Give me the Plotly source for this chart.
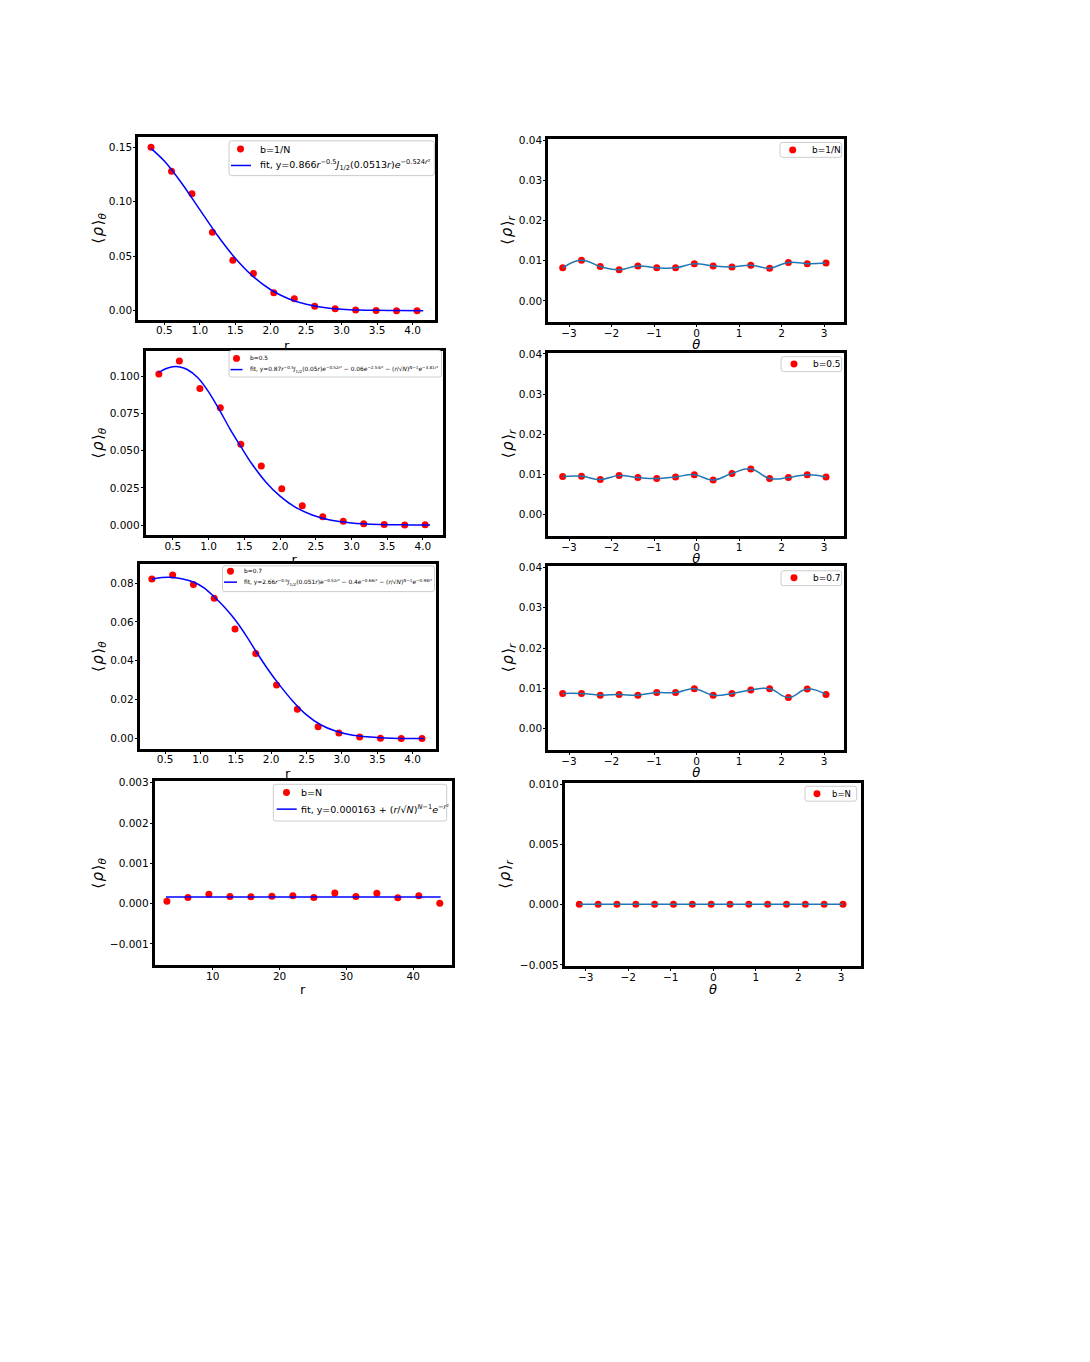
import plotly.graph_objects as go

# ---------------- data ----------------
# left column: <rho>_theta versus r
r_b1N = [0.312, 0.601, 0.889, 1.178, 1.466, 1.755, 2.043, 2.332, 2.620, 2.909, 3.197, 3.486, 3.774, 4.063]
rho_th_b1N = [0.1500, 0.1280, 0.1074, 0.0720, 0.0462, 0.0341, 0.0165, 0.0109, 0.0041, 0.0018, 0.0006, 0.0001, 0.0000, 0.0000]
fit_r_b1N = [0.312, 0.50, 0.75, 1.00, 1.25, 1.50, 1.75, 2.00, 2.25, 2.50, 2.75, 3.00, 3.25, 3.50, 3.80, 4.15]
fit_y_b1N = [0.1490, 0.1373, 0.1165, 0.0927, 0.0690, 0.0481, 0.0314, 0.0192, 0.0110, 0.0059, 0.0030, 0.0014, 0.0006, 0.0003, 0.0001, 0.0000]

r_b05 = [0.304, 0.591, 0.878, 1.164, 1.451, 1.738, 2.024, 2.311, 2.598, 2.885, 3.171, 3.458, 3.745, 4.031]
rho_th_b05 = [0.1015, 0.1102, 0.0918, 0.0788, 0.0542, 0.0397, 0.0244, 0.0130, 0.0056, 0.0026, 0.0009, 0.0004, 0.0000, 0.0002]
fit_r_b05 = [0.304, 0.40, 0.50, 0.60, 0.70, 0.85, 1.00, 1.15, 1.30, 1.45, 1.60, 1.80, 2.00, 2.20, 2.45, 2.70, 3.00, 3.40, 3.80, 4.10]
fit_y_b05 = [0.1025, 0.1050, 0.1063, 0.1062, 0.1045, 0.0990, 0.0895, 0.0775, 0.0645, 0.0528, 0.0415, 0.0290, 0.0194, 0.0124, 0.0068, 0.0034, 0.0014, 0.0004, 0.0001, 0.0000]

r_b07 = [0.312, 0.606, 0.900, 1.194, 1.488, 1.782, 2.076, 2.370, 2.664, 2.958, 3.252, 3.546, 3.840, 4.134]
rho_th_b07 = [0.0821, 0.0841, 0.0792, 0.0722, 0.0563, 0.0437, 0.0275, 0.0151, 0.0061, 0.0028, 0.0008, 0.0002, 0.0000, 0.0000]
fit_r_b07 = [0.312, 0.45, 0.60, 0.75, 0.90, 1.05, 1.20, 1.35, 1.50, 1.65, 1.80, 1.95, 2.10, 2.30, 2.50, 2.70, 2.90, 3.10, 3.40, 3.70, 4.16]
fit_y_b07 = [0.0820, 0.0828, 0.0829, 0.0821, 0.0805, 0.0775, 0.0727, 0.0672, 0.0606, 0.0527, 0.0440, 0.0358, 0.0284, 0.0195, 0.0122, 0.0071, 0.0040, 0.0021, 0.0008, 0.0002, 0.0000]

r_bN = [3.14, 6.28, 9.42, 12.57, 15.71, 18.85, 21.99, 25.13, 28.27, 31.42, 34.56, 37.70, 40.84, 43.98]
rho_th_bN = [0.000056, 0.000152, 0.000232, 0.000176, 0.000168, 0.000184, 0.000192, 0.000152, 0.000264, 0.000176, 0.000256, 0.000144, 0.000192, 0.000008]
fit_r_bN = [3.0, 44.1]
fit_y_bN = [0.000163, 0.000163]

# right column: <rho>_r versus theta
theta = [-3.149, -2.706, -2.264, -1.821, -1.379, -0.936, -0.493, -0.051, 0.392, 0.834, 1.277, 1.720, 2.162, 2.605, 3.047]
rho_r_b1N = [0.00824, 0.01016, 0.00856, 0.00776, 0.00872, 0.00824, 0.00824, 0.00928, 0.00872, 0.00848, 0.00888, 0.00816, 0.00960, 0.00928, 0.00944]
rho_r_b05 = [0.00944, 0.00952, 0.00872, 0.00968, 0.00920, 0.00896, 0.00936, 0.00992, 0.00856, 0.01024, 0.01136, 0.00896, 0.00920, 0.00992, 0.00936]
rho_r_b07 = [0.00872, 0.00872, 0.00832, 0.00848, 0.00832, 0.00896, 0.00896, 0.00992, 0.00832, 0.00872, 0.00960, 0.00992, 0.00776, 0.00984, 0.00848]
rho_r_bN = [0.00005, 0.00005, 0.00005, 0.00005, 0.00005, 0.00005, 0.00005, 0.00005, 0.00005, 0.00005, 0.00005, 0.00005, 0.00005, 0.00005, 0.00005]

labels_b = ["b=1/N", "b=0.5", "b=0.7", "b=N"]
fit_labels = [
    "fit, y=0.866<i>r</i><sup>−0.5</sup><i>J</i><sub>1/2</sub>(0.0513<i>r</i>)<i>e</i><sup>−0.524<i>r</i>²</sup>",
    "fit, y=0.87<i>r</i><sup>−0.5</sup><i>J</i><sub>1/2</sub>(0.05<i>r</i>)<i>e</i><sup>−0.52<i>r</i>²</sup> − 0.06<i>e</i><sup>−2.54<i>r</i>²</sup> − (<i>r</i>/√<i>N</i>)<sup><i>N</i>−1</sup><i>e</i><sup>−3.81<i>r</i>²</sup>",
    "fit, y=2.66<i>r</i><sup>−0.5</sup><i>J</i><sub>1/2</sub>(0.051<i>r</i>)<i>e</i><sup>−0.52<i>r</i>²</sup> − 0.4<i>e</i><sup>−0.66<i>r</i>²</sup> − (<i>r</i>/√<i>N</i>)<sup><i>N</i>−1</sup><i>e</i><sup>−0.98<i>r</i>²</sup>",
    "fit, y=0.000163 + (<i>r</i>/√<i>N</i>)<sup><i>N</i>−1</sup><i>e</i><sup>−<i>r</i>²</sup>",
]

# ---------------- geometry (page pixels) ----------------
PAGE_W, PAGE_H = 1090, 1362
OX = OY = 8                      # default body margin of the html page
WF, HF = PAGE_W - 2 * OX, PAGE_H - 2 * OY
LW = 3.0
FONT = "DejaVu Sans"
RED, BLUE, C0 = "#ff0000", "#0000ff", "#1f77b4"
TICKFONT = dict(family=FONT, size=10.5, color="black")
LABFONT = dict(family=FONT, size=13, color="black")
YLABFONT = dict(family=FONT, size=15, color="black")


def X(px):
    return (px - OX) / WF


def Y(py):
    return 1 - (py - OY) / HF


# frame (left, right, top, bottom) at spine centres, x range, y range at those edges
P = [
    dict(frame=(136.7, 436.7, 131.2, 318.3), xr=(0.11, 4.34), yr=(-0.0070, 0.1582), xd=0.5, xf=".1f", yd=0.05, yf=".2f"),
    dict(frame=(546.7, 845.7, 133.3, 321.0), xr=(-3.525, 3.51), yr=(-0.005, 0.04), xd=1, xf="d", yd=0.01, yf=".2f"),
    dict(frame=(144.3, 444.0, 346.7, 535.0), xr=(0.10, 4.295), yr=(-0.0057, 0.1160), xd=0.5, xf=".1f", yd=0.025, yf=".3f"),
    dict(frame=(546.7, 845.7, 348.3, 536.0), xr=(-3.525, 3.51), yr=(-0.005, 0.04), xd=1, xf="d", yd=0.01, yf=".2f"),
    dict(frame=(138.3, 437.3, 561.7, 750.0), xr=(0.12, 4.35), yr=(-0.0044, 0.0888), xd=0.5, xf=".1f", yd=0.02, yf=".2f"),
    dict(frame=(546.7, 845.7, 563.3, 751.7), xr=(-3.525, 3.51), yr=(-0.005, 0.04), xd=1, xf="d", yd=0.01, yf=".2f"),
    dict(frame=(153.3, 453.3, 780.0, 968.3), xr=(1.1, 46.0), yr=(-0.0015, 0.003), xd=10, xf="d", yd=0.001, yf=".3f"),
    dict(frame=(563.3, 862.7, 781.7, 969.3), xr=(-3.525, 3.51), yr=(-0.005, 0.010), xd=1, xf="d", yd=0.005, yf=".3f"),
]

fig = go.Figure()
layout = dict(width=WF, height=HF, margin=dict(l=0, r=0, t=0, b=0),
              paper_bgcolor="white", plot_bgcolor="white", showlegend=False,
              annotations=[], shapes=[])


def inset(a0, a1, p0, p1):
    k = (a1 - a0) / (p1 - p0)
    return [a0 + k * LW / 2, a1 - k * LW / 2]


for i, p in enumerate(P):
    n = i + 1
    l, r, t, b = p["frame"]
    xs = "" if n == 1 else str(n)
    common = dict(showgrid=False, zeroline=False, showline=True, linecolor="black", linewidth=LW,
                  mirror=True, ticks="outside", ticklen=2, tickwidth=0.8, tickcolor="black",
                  tickfont=TICKFONT, tick0=0, fixedrange=True)
    layout["xaxis" + xs] = dict(domain=[X(l + LW / 2), X(r - LW / 2)],
                                range=inset(p["xr"][0], p["xr"][1], l, r),
                                anchor="y" + xs, dtick=p["xd"], tickformat=p["xf"],
                                ticklabelstandoff=-3, **common)
    layout["yaxis" + xs] = dict(domain=[Y(b - LW / 2), Y(t + LW / 2)],
                                range=inset(p["yr"][0], p["yr"][1], b, t),
                                anchor="x" + xs, dtick=p["yd"], tickformat=p["yf"],
                                ticklabelstandoff=-1, **common)

# left column traces
left = [(r_b1N, rho_th_b1N, fit_r_b1N, fit_y_b1N),
        (r_b05, rho_th_b05, fit_r_b05, fit_y_b05),
        (r_b07, rho_th_b07, fit_r_b07, fit_y_b07),
        (r_bN, rho_th_bN, fit_r_bN, fit_y_bN)]
for k, (xr_, yr_, fx, fy) in enumerate(left):
    n = 2 * k + 1
    xs = "" if n == 1 else str(n)
    fig.add_trace(go.Scatter(x=xr_, y=yr_, mode="markers", name=labels_b[k],
                             marker=dict(color=RED, size=7), xaxis="x" + xs, yaxis="y" + xs,
                             hoverinfo="skip"))
    fig.add_trace(go.Scatter(x=fx, y=fy, mode="lines", name=fit_labels[k],
                             line=dict(color=BLUE, width=1.5, shape="spline", smoothing=0.8),
                             xaxis="x" + xs, yaxis="y" + xs, hoverinfo="skip"))

# right column traces
right = [rho_r_b1N, rho_r_b05, rho_r_b07, rho_r_bN]
for k, yv in enumerate(right):
    xs = str(2 * k + 2)
    fig.add_trace(go.Scatter(x=theta, y=yv, mode="markers", name=labels_b[k],
                             marker=dict(color=RED, size=7), xaxis="x" + xs, yaxis="y" + xs,
                             hoverinfo="skip"))
    fig.add_trace(go.Scatter(x=theta, y=yv, mode="lines", name="interp",
                             line=dict(color=C0, width=1.5, shape="spline", smoothing=1.3),
                             xaxis="x" + xs, yaxis="y" + xs, hoverinfo="skip"))

ann = layout["annotations"]
shp = layout["shapes"]

# ---------------- legends (matplotlib-style boxes) ----------------
# box (l, r, t, b), font size, entries: (kind, symbol x / x-range, row y, text, text x)
LEGENDS = [
    ((229.0, 434.3, 136.7, 171.7), 9.5, [("m", 240.5, 145.0, labels_b[0], 258.3), ("l", (231.0, 251.0), 161.5, fit_labels[0], 258.3)]),
    ((780.0, 841.7, 138.3, 153.3), 9.0, [("m", 792.7, 145.8, labels_b[0], 810.0)]),
    ((229.0, 441.5, 347.8, 374.5), 5.9, [("m", 236.5, 355.7, labels_b[1], 247.7), ("l", (230.5, 242.5), 367.0, fit_labels[1], 247.7)]),
    ((781.0, 841.7, 354.0, 369.0), 9.0, [("m", 794.0, 361.3, labels_b[1], 811.0)]),
    ((222.5, 434.5, 564.5, 590.5), 5.9, [("m", 230.5, 570.0, labels_b[2], 241.5), ("l", (224.0, 237.0), 581.0, fit_labels[2], 241.5)]),
    ((781.0, 841.7, 569.5, 584.5), 9.0, [("m", 794.0, 576.5, labels_b[2], 811.0)]),
    ((273.3, 446.7, 784.5, 821.5), 9.5, [("m", 286.5, 792.7, labels_b[3], 299.0), ("l", (276.7, 296.7), 809.5, fit_labels[3], 299.0)]),
    ((805.0, 856.7, 786.5, 801.5), 8.5, [("m", 817.0, 794.0, labels_b[3], 830.0)]),
]


def rounded_rect(l, r, t, b, rad=2.5):
    x0, x1, y0, y1 = X(l), X(r), Y(b), Y(t)
    rx, ry = rad / WF, rad / HF
    return (f"M{x0 + rx},{y1} L{x1 - rx},{y1} Q{x1},{y1} {x1},{y1 - ry} "
            f"L{x1},{y0 + ry} Q{x1},{y0} {x1 - rx},{y0} L{x0 + rx},{y0} "
            f"Q{x0},{y0} {x0},{y0 + ry} L{x0},{y1 - ry} Q{x0},{y1} {x0 + rx},{y1} Z")


for (l, r, t, b), fs, entries in LEGENDS:
    shp.append(dict(type="path", path=rounded_rect(l, r, t, b), xref="paper", yref="paper",
                    fillcolor="rgba(255,255,255,0.8)", line=dict(color="#cccccc", width=1), layer="above"))
    for kind, sx, sy, txt, tx in entries:
        if kind == "m":
            rad = 3.5
            shp.append(dict(type="circle", xref="paper", yref="paper",
                            x0=X(sx - rad), x1=X(sx + rad), y0=Y(sy + rad), y1=Y(sy - rad),
                            fillcolor=RED, line=dict(color=RED, width=0), layer="above"))
        else:
            shp.append(dict(type="line", xref="paper", yref="paper",
                            x0=X(sx[0]), x1=X(sx[1]), y0=Y(sy), y1=Y(sy),
                            line=dict(color=BLUE, width=1.5), layer="above"))
        ann.append(dict(text=txt, x=X(tx), y=Y(sy), xref="paper", yref="paper",
                        xanchor="left", yanchor="middle", showarrow=False,
                        font=dict(family=FONT, size=fs, color="black")))

# ---------------- axis titles ----------------
for i, p in enumerate(P):
    l, r, t, b = p["frame"]
    left_col = (i % 2 == 0)
    txt = ("⟨\u200a<i>ρ</i>\u200a⟩<sub><i>θ</i></sub>" if left_col
           else "⟨\u200a<i>ρ</i>\u200a⟩<sub><i>r</i></sub>")
    xc = 98.5 if left_col else (506 if i == 7 else 508)
    ann.append(dict(text=txt, x=X(xc), y=Y((t + b) / 2), xref="paper", yref="paper",
                    xanchor="center", yanchor="middle", textangle=-90, showarrow=False, font=YLABFONT))

ann.append(dict(text="r", x=X((153.3 + 453.3) / 2), y=Y(991), xref="paper", yref="paper",
                xanchor="center", yanchor="middle", showarrow=False, font=LABFONT))
ann.append(dict(text="<i>θ</i>", x=X((563.3 + 862.7) / 2), y=Y(991), xref="paper", yref="paper",
                xanchor="center", yanchor="middle", showarrow=False, font=LABFONT))

# x titles of the upper rows are partly hidden by the panel below: clipped text in helper subplots
hidden = [("r", 286.7, 344.0, 345.2), ("<i>θ</i>", 696.2, 343.0, 346.8),
          ("r", 294.2, 559.5, 560.2), ("<i>θ</i>", 696.2, 558.5, 561.8),
          ("r", 287.8, 775.0, 778.5), ("<i>θ</i>", 696.2, 774.0, 780.2)]
for j, (txt, cx, cy, clipb) in enumerate(hidden):
    xs = str(9 + j)
    top = cy - 9
    layout["xaxis" + xs] = dict(domain=[X(cx - 12), X(cx + 12)], range=[-12, 12],
                                visible=False, anchor="y" + xs, fixedrange=True)
    layout["yaxis" + xs] = dict(domain=[Y(clipb), Y(top)], range=[-clipb, -top],
                                visible=False, anchor="x" + xs, fixedrange=True)
    fig.add_trace(go.Scatter(x=[0], y=[-cy], mode="text", text=[txt], textposition="middle center",
                             textfont=LABFONT, cliponaxis=True, showlegend=False, hoverinfo="skip",
                             xaxis="x" + xs, yaxis="y" + xs))

fig.update_layout(**layout)
fig.write_html("out.html")
